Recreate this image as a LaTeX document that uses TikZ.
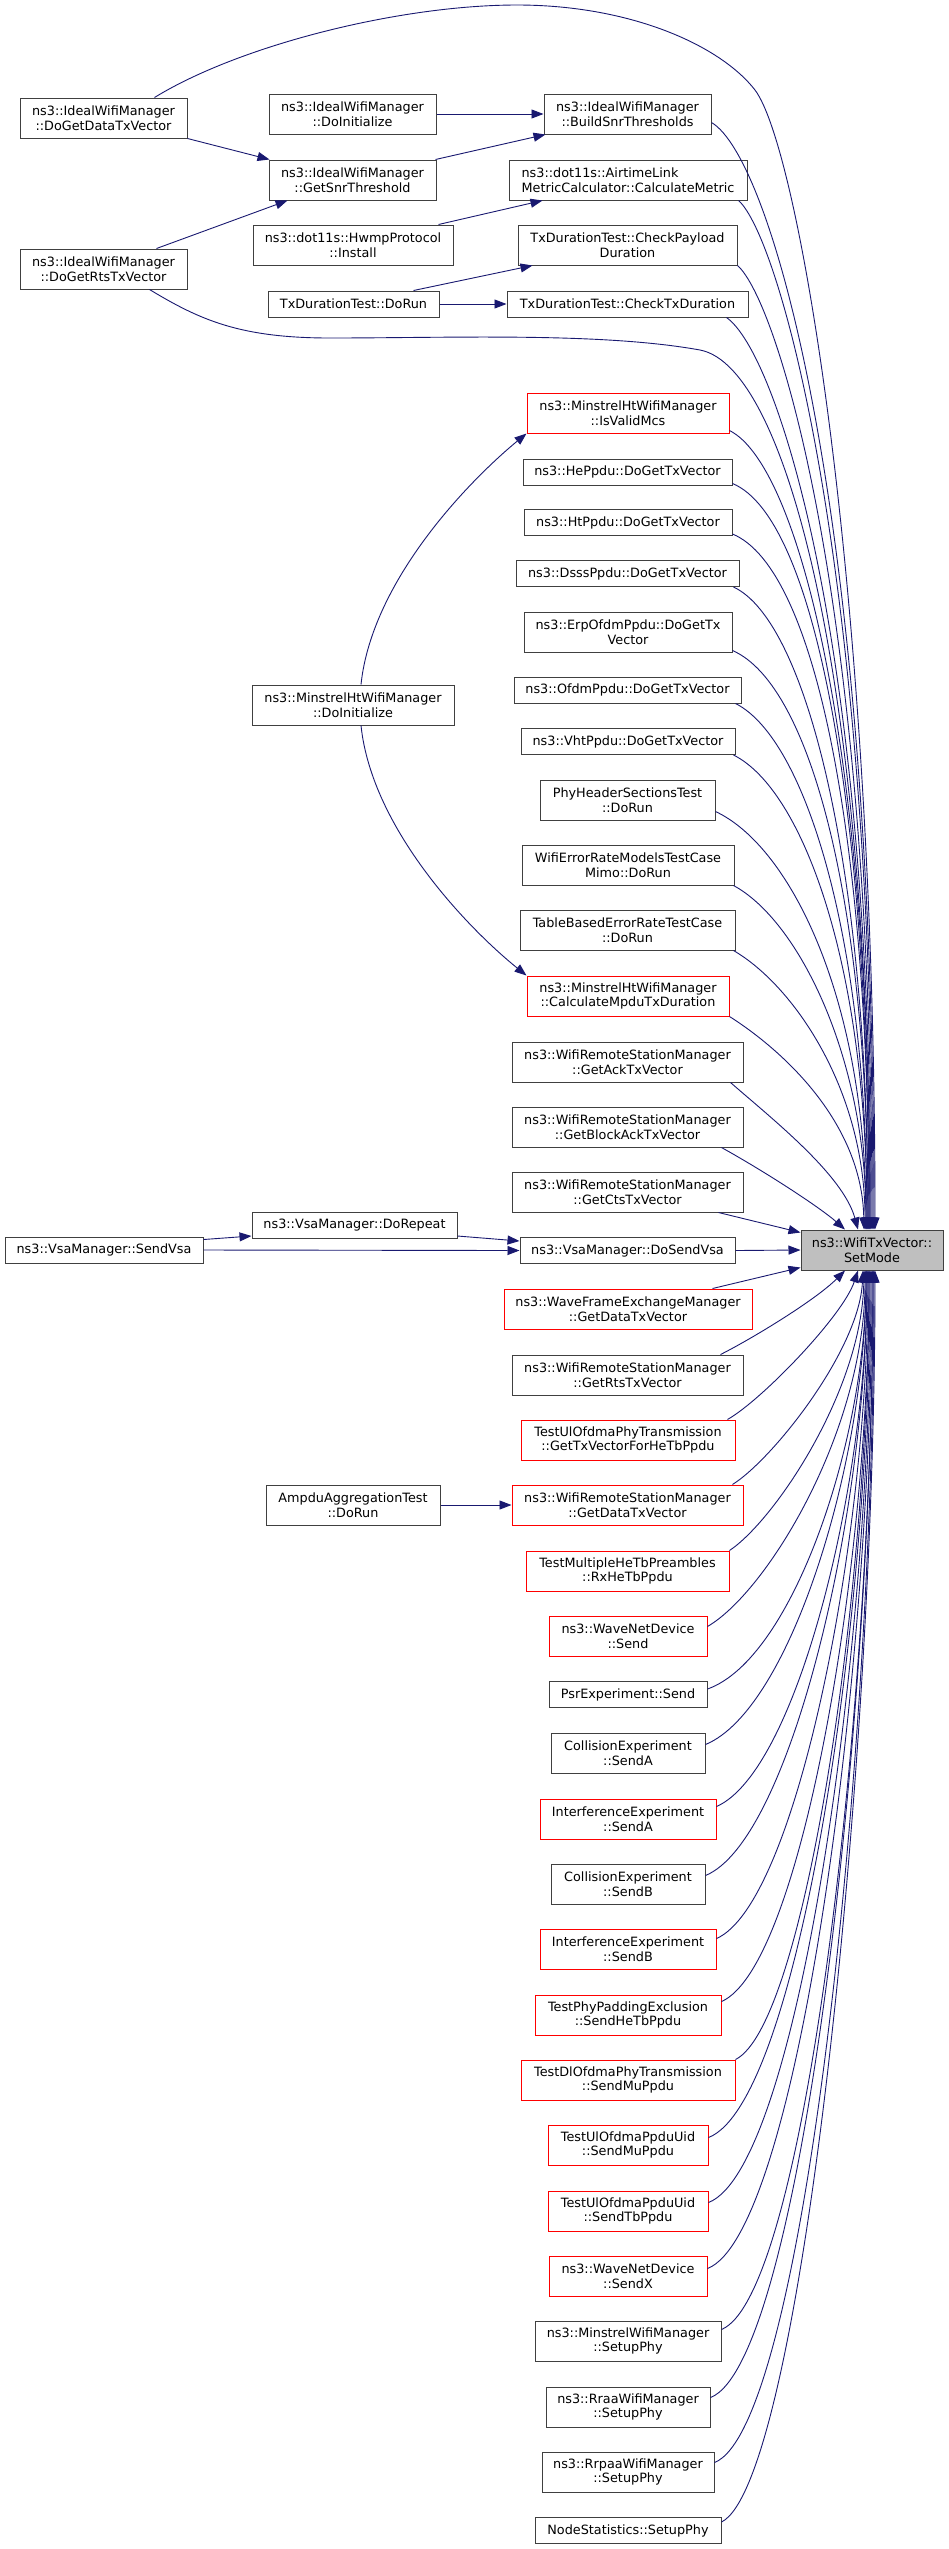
\documentclass[tikz,border=0pt]{standalone}
\usepackage{fontspec}
\setmainfont{DejaVu Sans}
\usetikzlibrary{arrows.meta}
\definecolor{edgecol}{HTML}{191970}
\begin{document}
\begin{tikzpicture}[x=1pt,y=-1pt,
  box/.style={draw=black!75, line width=1pt, fill=white, inner sep=0pt, align=center,
    font=\fontsize{12.8}{14.5}\selectfont, text=black},
  redbox/.style={box, draw=red},
  tgt/.style={box, fill=black!25},
  edge/.style={draw=edgecol, line width=0.9pt, -{Triangle[length=12pt,width=9pt]}},
]
\useasboundingbox (0,0) rectangle (949,2549);

% rank 3
\node[box, minimum width=167pt, minimum height=40pt] (A1) at (103.5,118) {ns3::IdealWifiManager\\::DoGetDataTxVector};
\node[box, minimum width=167pt, minimum height=40pt] (A2) at (103.5,269) {ns3::IdealWifiManager\\::DoGetRtsTxVector};
\node[box, minimum width=198pt, minimum height=26pt] (A3) at (104,1250) {ns3::VsaManager::SendVsa};
% rank 2
\node[box, minimum width=167pt, minimum height=40pt] (B1) at (352.5,114) {ns3::IdealWifiManager\\::DoInitialize};
\node[box, minimum width=167pt, minimum height=40pt] (B2) at (352.5,180) {ns3::IdealWifiManager\\::GetSnrThreshold};
\node[box, minimum width=200pt, minimum height=40pt] (B3) at (353,245) {ns3::dot11s::HwmpProtocol\\::Install};
\node[box, minimum width=171pt, minimum height=26pt] (B4) at (353.5,304) {TxDurationTest::DoRun};
\node[box, minimum width=202pt, minimum height=40pt] (B5) at (353,705) {ns3::MinstrelHtWifiManager\\::DoInitialize};
\node[box, minimum width=205pt, minimum height=26pt] (B6) at (354.5,1225.5) {ns3::VsaManager::DoRepeat};
\node[box, minimum width=174pt, minimum height=40pt] (B7) at (353,1505) {AmpduAggregationTest\\::DoRun};
% rank 1
\node[box, minimum width=167pt, minimum height=40pt] (C1) at (627.5,114) {ns3::IdealWifiManager\\::BuildSnrThresholds};
\node[box, align=left, minimum width=238pt, minimum height=40pt] (C2) at (628,180) {ns3::dot11s::AirtimeLink\\MetricCalculator::CalculateMetric};
\node[box, minimum width=219pt, minimum height=40pt] (C3) at (627.5,245) {TxDurationTest::CheckPayload\\Duration};
\node[box, minimum width=241pt, minimum height=26pt] (C4) at (627.5,304) {TxDurationTest::CheckTxDuration};
\node[redbox, minimum width=202pt, minimum height=40pt] (C5) at (628,413) {ns3::MinstrelHtWifiManager\\::IsValidMcs};
\node[box, minimum width=209pt, minimum height=26pt] (C6) at (627.5,472) {ns3::HePpdu::DoGetTxVector};
\node[box, minimum width=208pt, minimum height=26pt] (C7) at (628,522.5) {ns3::HtPpdu::DoGetTxVector};
\node[box, minimum width=223pt, minimum height=26pt] (C8) at (627.5,573.5) {ns3::DsssPpdu::DoGetTxVector};
\node[box, minimum width=208pt, minimum height=40pt] (C9) at (628,632) {ns3::ErpOfdmPpdu::DoGetTx\\Vector};
\node[box, minimum width=227pt, minimum height=26pt] (C10) at (627.5,690) {ns3::OfdmPpdu::DoGetTxVector};
\node[box, minimum width=214pt, minimum height=26pt] (C11) at (628,741.5) {ns3::VhtPpdu::DoGetTxVector};
\node[box, minimum width=175pt, minimum height=40pt] (C12) at (627.5,800) {PhyHeaderSectionsTest\\::DoRun};
\node[box, minimum width=212pt, minimum height=40pt] (C13) at (628,865) {WifiErrorRateModelsTestCase\\Mimo::DoRun};
\node[box, minimum width=215pt, minimum height=40pt] (C14) at (627.5,930) {TableBasedErrorRateTestCase\\::DoRun};
\node[redbox, minimum width=202pt, minimum height=40pt] (C15) at (628,996) {ns3::MinstrelHtWifiManager\\::CalculateMpduTxDuration};
\node[box, minimum width=231pt, minimum height=40pt] (C16) at (627.5,1062) {ns3::WifiRemoteStationManager\\::GetAckTxVector};
\node[box, minimum width=231pt, minimum height=40pt] (C17) at (627.5,1127) {ns3::WifiRemoteStationManager\\::GetBlockAckTxVector};
\node[box, minimum width=231pt, minimum height=40pt] (C18) at (627.5,1192) {ns3::WifiRemoteStationManager\\::GetCtsTxVector};
\node[box, minimum width=215pt, minimum height=26pt] (C19) at (627.5,1250.5) {ns3::VsaManager::DoSendVsa};
\node[redbox, minimum width=248pt, minimum height=40pt] (C20) at (628,1309) {ns3::WaveFrameExchangeManager\\::GetDataTxVector};
\node[box, minimum width=231pt, minimum height=40pt] (C21) at (627.5,1375) {ns3::WifiRemoteStationManager\\::GetRtsTxVector};
\node[redbox, minimum width=214pt, minimum height=40pt] (C22) at (628,1440) {TestUlOfdmaPhyTransmission\\::GetTxVectorForHeTbPpdu};
\node[redbox, minimum width=231pt, minimum height=40pt] (C23) at (627.5,1505) {ns3::WifiRemoteStationManager\\::GetDataTxVector};
\node[redbox, minimum width=203pt, minimum height=40pt] (C24) at (627.5,1571) {TestMultipleHeTbPreambles\\::RxHeTbPpdu};
\node[redbox, minimum width=158pt, minimum height=40pt] (C25) at (628,1636) {ns3::WaveNetDevice\\::Send};
\node[box, minimum width=158pt, minimum height=26pt] (C26) at (628,1694.5) {PsrExperiment::Send};
\node[box, minimum width=154pt, minimum height=40pt] (C27) at (628,1753) {CollisionExperiment\\::SendA};
\node[redbox, minimum width=176pt, minimum height=40pt] (C28) at (628,1819) {InterferenceExperiment\\::SendA};
\node[box, minimum width=154pt, minimum height=40pt] (C29) at (628,1884) {CollisionExperiment\\::SendB};
\node[redbox, minimum width=176pt, minimum height=40pt] (C30) at (628,1949) {InterferenceExperiment\\::SendB};
\node[redbox, minimum width=186pt, minimum height=40pt] (C31) at (628,2015) {TestPhyPaddingExclusion\\::SendHeTbPpdu};
\node[redbox, minimum width=214pt, minimum height=40pt] (C32) at (628,2080) {TestDlOfdmaPhyTransmission\\::SendMuPpdu};
\node[redbox, minimum width=160pt, minimum height=40pt] (C33) at (628,2145) {TestUlOfdmaPpduUid\\::SendMuPpdu};
\node[redbox, minimum width=160pt, minimum height=40pt] (C34) at (628,2211) {TestUlOfdmaPpduUid\\::SendTbPpdu};
\node[redbox, minimum width=158pt, minimum height=40pt] (C35) at (628,2276) {ns3::WaveNetDevice\\::SendX};
\node[box, minimum width=186pt, minimum height=40pt] (C36) at (628,2341) {ns3::MinstrelWifiManager\\::SetupPhy};
\node[box, minimum width=164pt, minimum height=40pt] (C37) at (628,2407) {ns3::RraaWifiManager\\::SetupPhy};
\node[box, minimum width=172pt, minimum height=40pt] (C38) at (628,2472) {ns3::RrpaaWifiManager\\::SetupPhy};
\node[box, minimum width=186pt, minimum height=26pt] (C39) at (628,2530.5) {NodeStatistics::SetupPhy};
% target
\node[tgt, minimum width=142pt, minimum height=40pt] (T) at (872,1250) {ns3::WifiTxVector::\\SetMode};

% rank 3 -> 2 and 2 -> 1
\draw[edge] (A1.south east) -- ([xshift=1pt]B2.north west);
\draw[edge] ([xshift=53pt]A2.north) -- ([xshift=-65pt]B2.south);
\draw[edge] (B1.east) -- (C1.west);
\draw[edge] ([xshift=-1pt]B2.north east) -- ([xshift=2pt]C1.south west);
\draw[edge] ([xshift=-15pt]B3.north east) -- ([xshift=34pt]C2.south west);
\draw[edge] ([xshift=60pt]B4.north) -- ([xshift=15pt]C3.south west);
\draw[edge] (B4.east) -- (C4.west);
\draw[edge] ([xshift=8pt]B5.north) .. controls (372,580) and (470,480) .. (C5.south west);
\draw[edge] ([xshift=8pt]B5.south) .. controls (372,830) and (470,930) .. (C15.north west);
\draw[edge] ([yshift=-3pt]A3.north east) -- ([yshift=3pt]B6.south west);
\draw[edge] (A3.east) -- (C19.west);
\draw[edge] ([yshift=3pt]B6.south east) -- ([yshift=-4pt]C19.north west);
\draw[edge] (B7.east) -- (C23.west);

% long edges
\draw[edge] ([xshift=51pt]A1.north) .. controls (240,45) and (400,5) .. (517,5)
  .. controls (630,5) and (720,45) .. (755,90)
  .. controls (800,150) and (875,600) .. ([xshift=3pt]T.north);
\draw[edge] ([xshift=46pt]A2.south) .. controls (200,320) and (240,338) .. (330,338)
  .. controls (450,338) and (600,332) .. (700,350)
  .. controls (790,367) and (870,700) .. ([xshift=-2pt]T.north);

% rank 1 -> target, from above
\draw[edge] ([yshift=12pt]C1.south east) .. controls +(60,35) and +(0,-720) .. ([xshift=2pt]T.north);
\draw[edge] ([xshift=-9pt]C2.south east) .. controls +(40,35) and +(0,-670) .. ([xshift=1pt]T.north);
\draw[edge] (C3.south east) .. controls +(40,35) and +(0,-627) .. (T.north);
\draw[edge] ([xshift=-22pt]C4.south east) .. controls +(50,35) and +(0,-593) .. ([xshift=-1pt]T.north);
\draw[edge] ([yshift=3pt]C5.south east) .. controls +(70,35) and +(0,-480) .. ([xshift=-2pt]T.north);
\draw[edge] ([yshift=2pt]C6.south east) .. controls +(85,35) and +(0,-410) .. ([xshift=-3pt]T.north);
\draw[edge] ([yshift=2pt]C7.south east) .. controls +(85,35) and +(0,-383) .. ([xshift=-3pt]T.north);
\draw[edge] ([xshift=-6pt]C8.south east) .. controls +(75,35) and +(0,-354) .. ([xshift=-4pt]T.north);
\draw[edge] ([yshift=2pt]C9.south east) .. controls +(80,35) and +(0,-319) .. ([xshift=-4pt]T.north);
\draw[edge] ([xshift=-6pt]C10.south east) .. controls +(70,35) and +(0,-290) .. ([xshift=-5pt]T.north);
\draw[edge] ([xshift=-2pt]C11.south east) .. controls +(70,35) and +(0,-262) .. ([xshift=-5pt]T.north);
\draw[edge] ([yshift=9pt]C12.south east) .. controls +(75,35) and +(0,-230) .. ([xshift=-6pt]T.north);
\draw[edge] ([xshift=-1pt]C13.south east) .. controls +(65,35) and +(0,-172) .. ([xshift=-6pt]T.north);
\draw[edge] ([xshift=-2pt]C14.south east) .. controls +(60,35) and +(0,-140) .. ([xshift=-7pt]T.north);
\draw[edge] (C15.south east) .. controls +(55,35) and +(-2,-106) .. ([xshift=-8pt]T.north);
\draw[edge] ([xshift=-13pt]C16.south east) .. controls +(40,35) and +(-15,-55) .. ([xshift=-14pt]T.north);
\draw[edge] ([xshift=-22pt]C17.south east) .. controls +(45,25) and +(-25,-22) .. ([xshift=-27pt]T.north);
\draw[edge] ([xshift=-25pt]C18.south east) -- ([yshift=-3pt]T.north west);
\draw[edge] (C19.east) -- (T.west);
\draw[edge] ([xshift=-40pt]C20.north east) -- ([yshift=3pt]T.south west);

% rank 1 -> target, from below
\draw[edge] ([xshift=-23pt]C21.north east) .. controls +(30,-15) and +(-30,30) .. ([xshift=-27pt]T.south);
\draw[edge] ([xshift=-8pt]C22.north east) .. controls +(35,-20) and +(-15,45) .. ([xshift=-14pt]T.south);
\draw[edge] ([xshift=-11pt]C23.north east) .. controls +(40,-25) and +(-4,80) .. ([xshift=-9pt]T.south);
\draw[edge] (C24.north east) .. controls +(45,-30) and +(-2,120) .. ([xshift=-8pt]T.south);
\draw[edge] ([yshift=-11pt]C25.north east) .. controls +(60,-35) and +(0,160) .. ([xshift=-7pt]T.south);
\draw[edge] ([yshift=-8pt]C26.north east) .. controls +(85,-30) and +(0,170) .. ([xshift=-6pt]T.south);
\draw[edge] ([yshift=-12pt]C27.north east) .. controls +(85,-35) and +(0,190) .. ([xshift=-6pt]T.south);
\draw[edge] ([yshift=-8pt]C28.north east) .. controls +(80,-35) and +(0,215) .. ([xshift=-5pt]T.south);
\draw[edge] ([yshift=-12pt]C29.north east) .. controls +(85,-35) and +(0,242) .. ([xshift=-5pt]T.south);
\draw[edge] ([yshift=-10pt]C30.north east) .. controls +(80,-35) and +(0,267) .. ([xshift=-4pt]T.south);
\draw[edge] ([yshift=-7pt]C31.north east) .. controls +(80,-35) and +(0,293) .. ([xshift=-3pt]T.south);
\draw[edge] (C32.north east) .. controls +(70,-35) and +(0,316) .. ([xshift=-3pt]T.south);
\draw[edge] ([yshift=-13pt]C33.north east) .. controls +(90,-35) and +(0,347) .. ([xshift=-2pt]T.south);
\draw[edge] ([yshift=-12pt]C34.north east) .. controls +(90,-35) and +(0,373) .. ([xshift=-1pt]T.south);
\draw[edge] ([yshift=-13pt]C35.north east) .. controls +(90,-35) and +(0,400) .. (T.south);
\draw[edge] ([yshift=-9pt]C36.north east) .. controls +(85,-35) and +(0,424) .. ([xshift=1pt]T.south);
\draw[edge] ([yshift=-11pt]C37.north east) .. controls +(90,-35) and +(0,451) .. ([xshift=1pt]T.south);
\draw[edge] ([yshift=-11pt]C38.north east) .. controls +(90,-35) and +(0,477) .. ([xshift=2pt]T.south);
\draw[edge] ([yshift=-5pt]C39.north east) .. controls +(80,-40) and +(0,490) .. ([xshift=3pt]T.south);
\end{tikzpicture}
\end{document}
